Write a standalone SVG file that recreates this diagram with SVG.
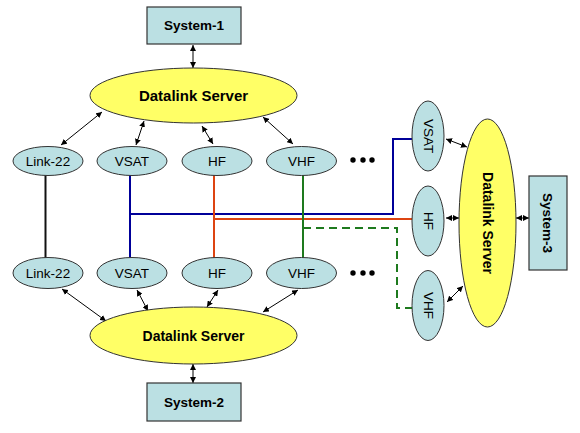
<svg xmlns="http://www.w3.org/2000/svg" width="580" height="433" viewBox="0 0 580 433">
<style>
.box{fill:#BBE0E3;stroke:#333;stroke-width:1.2}
.srv{fill:#FFFF66;stroke:#333;stroke-width:1}
.sm{fill:#BBE0E3;stroke:#333;stroke-width:1}
.t{font-family:"Liberation Sans",Arial,sans-serif;font-size:13.5px;fill:#000;text-anchor:middle}
.b{font-weight:bold}
.arr{stroke:#000;stroke-width:1;fill:none;marker-start:url(#ah);marker-end:url(#ah)}
.ln{fill:none;stroke-width:2}
</style>
<defs>
<marker id="ah" viewBox="0 0 10 10" refX="10" refY="5" markerWidth="6" markerHeight="6" markerUnits="userSpaceOnUse" orient="auto-start-reverse">
<path d="M0,0 L10,5 L0,10 z" fill="#000"/>
</marker>
</defs>
<g id="connectors">
<line class="arr" x1="193" y1="45" x2="193" y2="68"/>
<line class="arr" x1="61" y1="145" x2="102" y2="112"/>
<line class="arr" x1="136" y1="145" x2="144" y2="121"/>
<line class="arr" x1="202" y1="126" x2="213" y2="144"/>
<line class="arr" x1="263" y1="117" x2="293" y2="144"/>
<line class="arr" x1="62" y1="289" x2="106" y2="321"/>
<line class="arr" x1="137" y1="290" x2="148" y2="311"/>
<line class="arr" x1="218" y1="290" x2="207" y2="307"/>
<line class="arr" x1="298" y1="290" x2="263" y2="312"/>
<line class="arr" x1="193" y1="364" x2="193" y2="383"/>
<line class="arr" x1="446" y1="139" x2="467" y2="147"/>
<line class="arr" x1="446" y1="218" x2="459" y2="218"/>
<line class="arr" x1="516" y1="218" x2="529" y2="218"/>
<line class="arr" x1="447" y1="302" x2="463" y2="286"/>
<line class="ln" stroke="#111" x1="45.5" y1="175" x2="45.5" y2="258"/>
<polyline class="ln" stroke="#000099" points="130,175 130,258"/>
<polyline class="ln" stroke="#000099" points="130,214 393,214 393,139 412,139"/>
<polyline class="ln" stroke="#DD4411" points="214,175 214,258"/>
<polyline class="ln" stroke="#DD4411" points="214,219 412,219"/>
<polyline class="ln" stroke="#1E7A1E" points="303,175 303,258"/>
<polyline class="ln" stroke="#1E7A1E" stroke-dasharray="8,5" points="303,228 397,228 397,308 412,308"/>
</g>
<g id="system1"><rect class="box" x="147" y="7" width="94" height="37"/><text class="t b" x="194" y="30">System-1</text></g>
<g id="server1"><ellipse class="srv" cx="193.5" cy="95.5" rx="103.5" ry="27.5"/><text class="t b" x="193.5" y="101" style="font-size:15px">Datalink Server</text></g>
<g id="link22a"><ellipse class="sm" cx="48" cy="161" rx="35" ry="14.5"/><text class="t" x="48" y="166">Link-22</text></g>
<g id="vsata"><ellipse class="sm" cx="132" cy="161" rx="35" ry="14.5"/><text class="t" x="132" y="166">VSAT</text></g>
<g id="hfa"><ellipse class="sm" cx="217" cy="161" rx="35" ry="14.5"/><text class="t" x="217" y="166">HF</text></g>
<g id="vhfa"><ellipse class="sm" cx="301.5" cy="161" rx="35" ry="14.5"/><text class="t" x="301.5" y="166">VHF</text></g>
<g id="dots1"><circle cx="353" cy="160" r="2.7"/><circle cx="363" cy="160" r="2.7"/><circle cx="372" cy="160" r="2.7"/></g>
<g id="link22b"><ellipse class="sm" cx="48" cy="273" rx="35" ry="15.5"/><text class="t" x="48" y="278">Link-22</text></g>
<g id="vsatb"><ellipse class="sm" cx="132" cy="273" rx="35" ry="15.5"/><text class="t" x="132" y="278">VSAT</text></g>
<g id="hfb"><ellipse class="sm" cx="217" cy="273" rx="35" ry="15.5"/><text class="t" x="217" y="278">HF</text></g>
<g id="vhfb"><ellipse class="sm" cx="301.5" cy="273" rx="35" ry="15.5"/><text class="t" x="301.5" y="278">VHF</text></g>
<g id="dots2"><circle cx="353" cy="273" r="2.7"/><circle cx="363" cy="273" r="2.7"/><circle cx="372" cy="273" r="2.7"/></g>
<g id="server2"><ellipse class="srv" cx="193.5" cy="335.5" rx="103.5" ry="28.5"/><text class="t b" x="193.5" y="341" style="font-size:14px">Datalink Server</text></g>
<g id="system2"><rect class="box" x="147" y="383" width="94" height="38"/><text class="t b" x="194" y="407">System-2</text></g>
<g id="vsatc"><ellipse class="sm" cx="428" cy="136" rx="16" ry="35"/><text class="t" transform="translate(423.5,136) rotate(90)">VSAT</text></g>
<g id="hfc"><ellipse class="sm" cx="428" cy="221" rx="16" ry="35"/><text class="t" transform="translate(423.5,221) rotate(90)">HF</text></g>
<g id="vhfc"><ellipse class="sm" cx="428" cy="305.5" rx="16" ry="35"/><text class="t" transform="translate(423.5,305.5) rotate(90)">VHF</text></g>
<g id="server3"><ellipse class="srv" cx="487.5" cy="223" rx="28.5" ry="104"/><text class="t b" transform="translate(482.5,223) rotate(90)" style="font-size:14px">Datalink Server</text></g>
<g id="system3"><rect class="box" x="529" y="176" width="38" height="94"/><text class="t b" transform="translate(543,223) rotate(90)">System-3</text></g>
</svg>
